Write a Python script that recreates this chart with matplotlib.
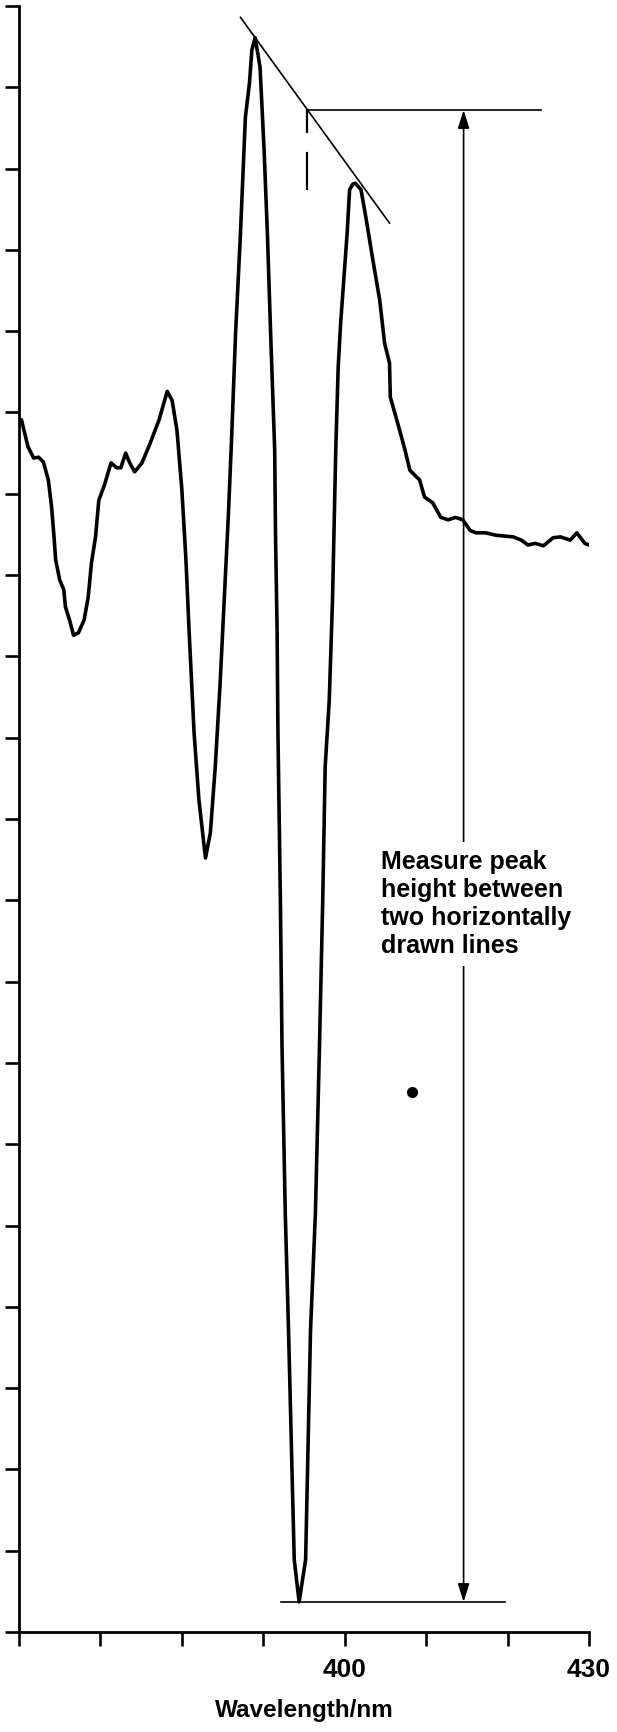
import matplotlib
matplotlib.use('Agg')
import matplotlib.pyplot as plt

plt.rcParams['font.family'] = ['Liberation Sans', 'DejaVu Sans']

# derivative spectrum (x in nm, y in tick units)
wavelength = [360.3, 361.1, 361.8, 362.4, 363.0, 363.6, 364.0, 364.3, 364.5, 365.0,
              365.5, 365.7, 366.2, 366.7, 367.3, 368.0, 368.5, 368.9, 369.4, 369.8,
              370.5, 371.3, 372.0, 372.5, 373.1, 373.6, 374.2, 375.1, 376.1, 377.2,
              378.2, 378.8, 379.4, 380.0, 380.5, 380.9, 381.5, 382.1, 382.9, 383.5,
              384.1, 384.7, 385.2, 385.7, 386.1, 386.6, 387.2, 387.8, 388.3, 388.6,
              389.0, 389.6, 390.1, 390.5, 390.9, 391.4, 391.5, 391.7, 391.8, 392.1,
              392.3, 392.7, 393.1, 393.8, 394.4, 395.2, 395.8, 396.4, 396.9, 397.3,
              397.6, 398.1, 398.5, 398.9, 399.2, 399.5, 400.0, 400.3, 400.6, 401.0,
              401.3, 402.0, 402.6, 403.4, 404.3, 404.9, 405.5, 405.6, 406.5, 407.4,
              408.0, 409.2, 409.8, 410.8, 411.8, 412.7, 413.6, 414.5, 415.4, 416.1,
              417.3, 418.6, 420.7, 421.7, 422.5, 423.4, 424.4, 425.6, 426.5, 427.7,
              428.5, 429.5, 430.0]
signal = [14.91, 14.58, 14.44, 14.45, 14.39, 14.17, 13.84, 13.47, 13.19, 12.94,
          12.82, 12.61, 12.45, 12.26, 12.29, 12.45, 12.73, 13.15, 13.47, 13.92,
          14.11, 14.38, 14.32, 14.32, 14.50, 14.38, 14.27, 14.38, 14.62, 14.91,
          15.26, 15.15, 14.78, 14.05, 13.19, 12.29, 11.06, 10.23, 9.52, 9.83,
          10.64, 11.67, 12.69, 13.71, 14.66, 15.98, 17.21, 18.63, 19.05, 19.46,
          19.61, 19.25, 18.23, 17.21, 15.98, 14.54, 13.52, 12.29, 11.06, 9.00,
          7.20, 5.15, 3.71, 0.89, 0.37, 0.89, 3.71, 5.15, 7.20, 9.00,
          10.64, 11.46, 12.69, 14.54, 15.56, 16.10, 16.79, 17.21, 17.74, 17.81,
          17.82, 17.74, 17.40, 16.91, 16.38, 15.85, 15.61, 15.19, 14.87, 14.54,
          14.29, 14.17, 13.96, 13.89, 13.71, 13.68, 13.71, 13.68, 13.55, 13.52,
          13.52, 13.49, 13.47, 13.43, 13.37, 13.39, 13.36, 13.46, 13.47, 13.43,
          13.52, 13.39, 13.37]

# construction lines
tangent_x = [387.2, 405.5]
tangent_y = [19.86, 17.33]
top_line_x = [395.5, 424.1]
top_line_y = 18.72
bottom_line_x = [392.2, 419.7]
bottom_line_y = 0.37
dash_x = 395.4
dash_y = [18.72, 18.45, None, 18.19, 17.75]
arrow_x = 414.6
dot_xy = (408.3, 6.64)

xticks = [360, 370, 380, 390, 400, 410, 420, 430]
xticklabels = ['', '', '', '', '400', '', '', '430']

fig = plt.figure(figsize=(6.17, 17.32), dpi=100)
ax = fig.add_axes([19/617, 100/1732, 570/617, 1626/1732])

ax.plot(wavelength, signal, color='black', lw=2.6, solid_joinstyle='round',
        solid_capstyle='round', zorder=4)

ax.plot(tangent_x, tangent_y, color='black', lw=1.2)
ax.plot(top_line_x, [top_line_y, top_line_y], color='black', lw=1.2)
ax.plot(bottom_line_x, [bottom_line_y, bottom_line_y], color='black', lw=1.2)
dy = [v if v is not None else float('nan') for v in dash_y]
ax.plot([dash_x]*len(dy), dy, color='black', lw=1.6)

ax.annotate('', xy=(arrow_x, bottom_line_y), xytext=(arrow_x, top_line_y),
            arrowprops=dict(arrowstyle='<|-|>,head_length=1.1,head_width=0.35',
                            mutation_scale=10, color='black', lw=1.2,
                            shrinkA=0, shrinkB=0), zorder=2)

ax.text(404.4, 9.62, 'Measure peak\nheight between\ntwo horizontally\ndrawn lines',
        ha='left', va='top', fontsize=18, fontweight='bold', linespacing=1.22,
        bbox=dict(boxstyle='square,pad=0.3', fc='white', ec='none'), zorder=5)

ax.plot([dot_xy[0]], [dot_xy[1]], 'o', color='black', ms=7)

ax.set_xlim(360, 430)
ax.set_ylim(0, 20)
ax.set_xticks(xticks)
ax.set_xticklabels(xticklabels)
ax.set_yticks(range(0, 21))
ax.set_yticklabels([])
ax.tick_params(axis='both', direction='out', length=10, width=1.9, pad=9,
               labelsize=19)
for lbl in ax.get_xticklabels():
    lbl.set_fontweight('bold')
ax.set_xlabel('Wavelength/nm', fontsize=17.5, fontweight='bold', labelpad=12)

ax.spines['top'].set_visible(False)
ax.spines['right'].set_visible(False)
ax.spines['left'].set_linewidth(2.0)
ax.spines['bottom'].set_linewidth(2.0)

fig.savefig('out.png', dpi=100)
